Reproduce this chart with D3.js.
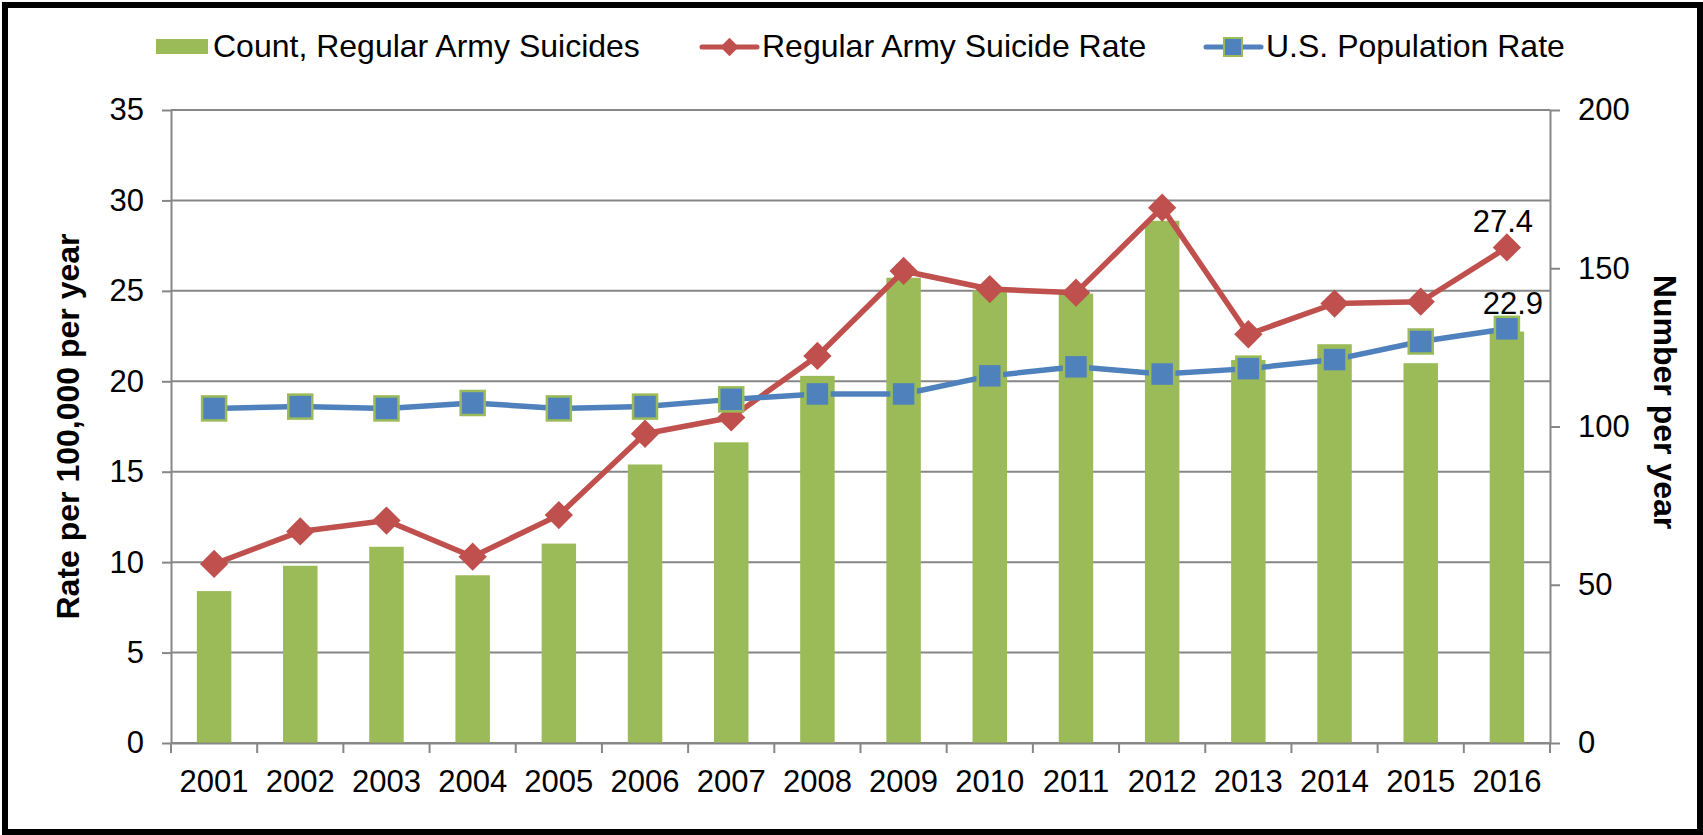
<!DOCTYPE html>
<html>
<head>
<meta charset="utf-8">
<script src="https://cdn.jsdelivr.net/npm/d3@7"></script>
<style>
  body { margin: 0; background: #fff; }
  text { font-family: "Liberation Sans", Arial, sans-serif; fill: #000; }
</style>
</head>
<body>
<div id="chart"></div>
<script>
// data
var years = ["2001", "2002", "2003", "2004", "2005", "2006", "2007", "2008",
             "2009", "2010", "2011", "2012", "2013", "2014", "2015", "2016"];
var armyCount = [48, 56, 62, 53, 63, 88, 95, 116, 147, 143, 142, 165, 121, 126, 120, 130];
var armyRate = [9.9, 11.7, 12.3, 10.3, 12.6, 17.1, 18.0, 21.4, 26.1, 25.1, 24.9, 29.6, 22.6, 24.3, 24.4, 27.4];
var usRate = [18.5, 18.6, 18.5, 18.8, 18.5, 18.6, 19.0, 19.3, 19.3, 20.3, 20.8, 20.4, 20.7, 21.2, 22.2, 22.9];
var rateTicks = [0, 5, 10, 15, 20, 25, 30, 35];
var countTicks = [0, 50, 100, 150, 200];
var legendLabels = ["Count, Regular Army Suicides", "Regular Army Suicide Rate", "U.S. Population Rate"];

// svg container
var svgWidth = 1703;
var svgHeight = 835;

var plot = { left: 171, right: 1550, top: 110, bottom: 743 };

var green = "#9BBB59", red = "#C0504D", blue = "#4F81BD", grid = "#878787";

var svg = d3.select("#chart")
    .append("svg")
    .attr("width", svgWidth)
    .attr("height", svgHeight);

// scales
var xScale = d3.scaleBand()
    .domain(years)
    .range([plot.left, plot.right])
    .padding(0);

var yRate = d3.scaleLinear()
    .domain([0, 35])
    .range([plot.bottom, plot.top]);

var yCount = d3.scaleLinear()
    .domain([0, 200])
    .range([plot.bottom, plot.top]);

var cx = function(d, i) { return xScale(years[i]) + xScale.bandwidth() / 2; };

// gridlines
svg.append("g")
    .selectAll("line")
    .data(rateTicks)
    .enter()
    .append("line")
    .attr("x1", plot.left)
    .attr("x2", plot.right)
    .attr("y1", d => yRate(d))
    .attr("y2", d => yRate(d))
    .attr("stroke", grid)
    .attr("stroke-width", 2);

// bars
var barW = xScale.bandwidth() * 0.4;
svg.append("g")
    .selectAll("rect")
    .data(armyCount)
    .enter()
    .append("rect")
    .attr("x", (d, i) => cx(d, i) - barW / 2)
    .attr("y", d => yCount(d))
    .attr("width", barW)
    .attr("height", d => yCount(0) - yCount(d))
    .attr("fill", green);

// left axis
var leftAxis = svg.append("g")
    .attr("transform", `translate(${plot.left}, 0)`)
    .call(d3.axisLeft(yRate).tickValues(rateTicks).tickSize(9).tickSizeOuter(0).tickPadding(18));

// right axis
var rightAxis = svg.append("g")
    .attr("transform", `translate(${plot.right}, 0)`)
    .call(d3.axisRight(yCount).tickValues(countTicks).tickSize(10).tickSizeOuter(0).tickPadding(18));

// bottom axis: labels in band centres, ticks on band edges
var bottomAxis = svg.append("g")
    .attr("transform", `translate(0, ${plot.bottom})`)
    .call(d3.axisBottom(xScale).tickSize(0).tickSizeOuter(0).tickPadding(27));

bottomAxis.append("g")
    .selectAll("line")
    .data(years.map(y => xScale(y)).concat([plot.right]))
    .enter()
    .append("line")
    .attr("x1", d => d)
    .attr("x2", d => d)
    .attr("y1", 0)
    .attr("y2", 10)
    .attr("stroke", grid)
    .attr("stroke-width", 2);

[leftAxis, rightAxis, bottomAxis].forEach(function(g) {
    g.selectAll("path.domain").attr("stroke", grid).attr("stroke-width", 2);
    g.selectAll(".tick line").attr("stroke", grid).attr("stroke-width", 2);
    g.selectAll("text")
        .attr("font-size", "31px")
        .attr("font-family", "Liberation Sans, Arial, sans-serif")
        .attr("fill", "#000");
});

// lines
var rateLine = d3.line()
    .x((d, i) => cx(d, i))
    .y(d => yRate(d));

svg.append("path")
    .datum(armyRate)
    .attr("d", rateLine)
    .attr("fill", "none")
    .attr("stroke", red)
    .attr("stroke-width", 5.5)
    .attr("stroke-linejoin", "round");

var diamond = d3.symbol().type(d3.symbolSquare).size(20 * 20);
svg.append("g")
    .selectAll("path")
    .data(armyRate)
    .enter()
    .append("path")
    .attr("d", diamond)
    .attr("transform", (d, i) => `translate(${cx(d, i)}, ${yRate(d)}) rotate(45)`)
    .attr("fill", red);

svg.append("path")
    .datum(usRate)
    .attr("d", rateLine)
    .attr("fill", "none")
    .attr("stroke", blue)
    .attr("stroke-width", 5.5)
    .attr("stroke-linejoin", "round");

svg.append("g")
    .selectAll("rect")
    .data(usRate)
    .enter()
    .append("rect")
    .attr("x", (d, i) => cx(d, i) - 12)
    .attr("y", d => yRate(d) - 12)
    .attr("width", 24)
    .attr("height", 24)
    .attr("fill", blue)
    .attr("stroke", green)
    .attr("stroke-width", 2.5);

// data labels on last point
var last = years.length - 1;
svg.append("text")
    .attr("x", cx(armyRate[last], last) - 4)
    .attr("y", yRate(armyRate[last]) - 15)
    .attr("text-anchor", "middle")
    .attr("font-size", "31px")
    .text(armyRate[last].toFixed(1));

svg.append("text")
    .attr("x", cx(usRate[last], last) + 6)
    .attr("y", yRate(usRate[last]) - 15)
    .attr("text-anchor", "middle")
    .attr("font-size", "31px")
    .text(usRate[last].toFixed(1));

// axis titles
svg.append("text")
    .attr("transform", `translate(79, ${(plot.top + plot.bottom) / 2}) rotate(-90)`)
    .attr("text-anchor", "middle")
    .attr("font-size", "32px")
    .attr("font-weight", "bold")
    .text("Rate per 100,000 per year");

svg.append("text")
    .attr("transform", `translate(1654, 402) rotate(90)`)
    .attr("text-anchor", "middle")
    .attr("font-size", "32px")
    .attr("font-weight", "bold")
    .text("Number per year");

// legend
var legend = svg.append("g").attr("transform", "translate(0, 47)");

legend.append("rect")
    .attr("x", 156).attr("y", -8)
    .attr("width", 52).attr("height", 15)
    .attr("fill", green);

legend.append("line")
    .attr("x1", 702).attr("x2", 757)
    .attr("stroke", red).attr("stroke-width", 5).attr("stroke-linecap", "round");
legend.append("path")
    .attr("d", d3.symbol().type(d3.symbolSquare).size(13 * 13))
    .attr("transform", "translate(729.5, 0) rotate(45)")
    .attr("fill", red);

legend.append("line")
    .attr("x1", 1206).attr("x2", 1261)
    .attr("stroke", blue).attr("stroke-width", 5).attr("stroke-linecap", "round");
legend.append("rect")
    .attr("x", 1224).attr("y", -9)
    .attr("width", 18).attr("height", 18)
    .attr("fill", blue)
    .attr("stroke", green)
    .attr("stroke-width", 2);

legend.selectAll("text.leg")
    .data(legendLabels)
    .enter()
    .append("text")
    .attr("class", "leg")
    .attr("x", (d, i) => [213, 762, 1266][i])
    .attr("y", 10)
    .attr("font-size", "32px")
    .text(d => d);

// outer frame
svg.append("rect")
    .attr("x", 5).attr("y", 5)
    .attr("width", 1695).attr("height", 827)
    .attr("fill", "none")
    .attr("stroke", "#000")
    .attr("stroke-width", 6);
</script>
</body>
</html>
